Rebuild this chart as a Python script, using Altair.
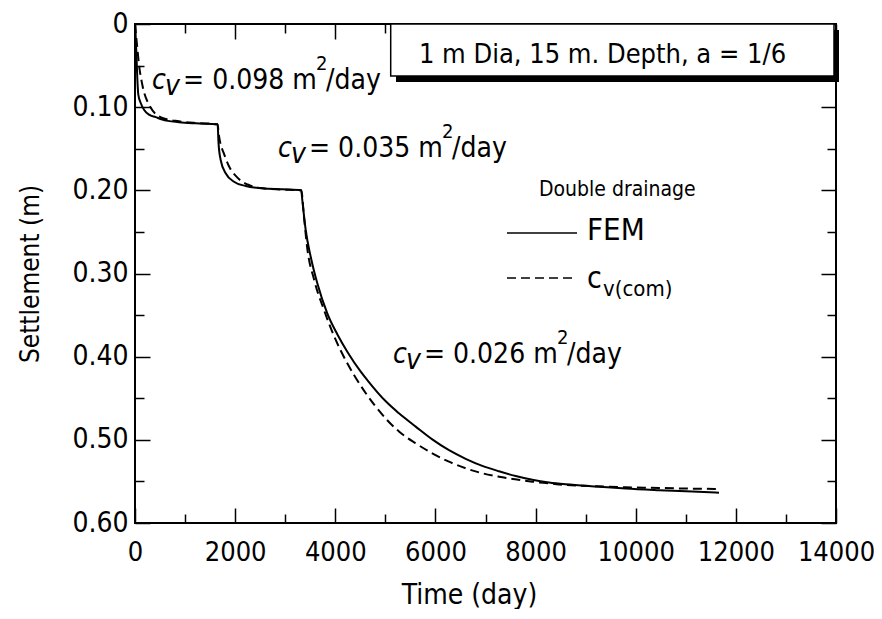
import altair as alt
import pandas as pd

FONT = "DejaVu Sans Condensed, Liberation Sans, sans-serif"
W, H = 701, 499

# FEM curve: time (day) and settlement (m)
fem_t = [0, 26, 46, 66, 114, 180, 280, 413, 545, 879, 1212, 1650,
         1668, 1711, 1811, 1977, 2211, 2542, 2942, 3320,
         3341, 3409, 3509, 3641, 3840, 4040, 4240, 4508, 4639, 5013, 5272,
         5606, 5937, 6271, 6604, 6936, 7270, 7603, 7935, 8268, 8601, 9267,
         9800, 10465, 11130, 11663]
fem_s = [0, 0.033, 0.065, 0.085, 0.095, 0.103, 0.109, 0.112, 0.115, 0.118, 0.1194, 0.1205,
         0.143, 0.1635, 0.1795, 0.1896, 0.1948, 0.1976, 0.1988, 0.2,
         0.2116, 0.2477, 0.2798, 0.3118, 0.3479, 0.373, 0.394, 0.418, 0.4281, 0.454, 0.4681,
         0.4841, 0.4995, 0.5125, 0.5228, 0.5313, 0.5378, 0.5435, 0.548, 0.5513, 0.5535, 0.5563,
         0.5585, 0.5605, 0.5622, 0.5636]

# c_v(com) curve
com_t = [0, 40, 80, 146, 280, 545, 879, 1212, 1650,
         1672, 1700, 1771, 1877, 2051, 2250, 2542, 2942, 3320,
         3375, 3441, 3575, 3775, 3974, 4240, 4374, 4806, 5272, 5606, 5937,
         6271, 6604, 6936, 7270, 7603, 7935, 8268, 8601, 9133, 9800, 10465,
         11130, 11663]
com_s = [0, 0.025, 0.049, 0.073, 0.097, 0.113, 0.117, 0.119, 0.1205,
         0.132, 0.142, 0.155, 0.171, 0.185, 0.193, 0.1976, 0.199, 0.2,
         0.232, 0.270, 0.307, 0.344, 0.375, 0.408, 0.422, 0.460, 0.490, 0.5042, 0.5162,
         0.5263, 0.5342, 0.5402, 0.5443, 0.5475, 0.5503, 0.5523, 0.5543, 0.5556, 0.5571, 0.5579,
         0.5587, 0.5591]

x_major = [0, 2000, 4000, 6000, 8000, 10000, 12000, 14000]
x_minor = [1000, 3000, 5000, 7000, 9000, 11000, 13000]
y_major = [0, 0.1, 0.2, 0.3, 0.4, 0.5, 0.6]
y_minor = [0.05, 0.15, 0.25, 0.35, 0.45, 0.55]

# annotation texts and their anchor (time, settlement)
cv_values = ["0.098", "0.035", "0.026"]
cv_t = [340, 2856, 5152]
cv_s = [0.0785, 0.1596, 0.408]

box_text = "1 m Dia, 15 m. Depth, a = 1/6"
legend_title = "Double drainage"

fem = pd.DataFrame({"t": fem_t, "s": fem_s})
com = pd.DataFrame({"t": com_t, "s": com_s})
one = pd.DataFrame({"k": [0]})

xs = alt.Scale(domain=[0, 14000], nice=False, zero=False)
ys = alt.Scale(domain=[0, 0.6], reverse=True, nice=False, zero=False)


def tick_axis(orient, values, size, offset):
    return alt.Axis(orient=orient, values=values, offset=offset, labels=False,
                    domain=False, ticks=True, tickSize=size, tickWidth=1.5,
                    tickColor="black", grid=False, title=None)


main_x = alt.Axis(orient="bottom", values=x_major, format="d", ticks=False,
                  domain=False, grid=False, labelFont=FONT, labelFontSize=27,
                  labelColor="black", labelPadding=16, labelFlush=False,
                  labelOverlap=False, title="Time (day)", titleFont=FONT,
                  titleFontSize=28, titleFontWeight="normal", titleColor="black",
                  titleX=334, titleY=80, titleBaseline="alphabetic")
main_y = alt.Axis(orient="left", values=y_major,
                  labelExpr="datum.value == 0 ? '0' : format(datum.value, '.2f')",
                  ticks=False, domain=False, grid=False, labelFont=FONT,
                  labelFontSize=28, labelColor="black", labelPadding=7,
                  labelOverlap=False, title="Settlement (m)", titleFont=FONT,
                  titleFontSize=26, titleFontWeight="normal", titleColor="black",
                  titleX=-97, titleAngle=270, titleBaseline="alphabetic")

fem_line = alt.Chart(fem).mark_line(color="black", strokeWidth=2, interpolate="monotone").encode(
    x=alt.X("t:Q", scale=xs, axis=main_x), y=alt.Y("s:Q", scale=ys, axis=main_y))
com_line = alt.Chart(com).mark_line(color="black", strokeWidth=2, strokeDash=[9, 5],
                                    interpolate="monotone").encode(
    x=alt.X("t:Q", scale=xs, axis=None), y=alt.Y("s:Q", scale=ys, axis=None))


def tick_layer(xo, yo, xv, yv, size):
    return alt.Chart(fem).mark_line(opacity=0).encode(
        x=alt.X("t:Q", scale=xs, axis=tick_axis(xo, xv, size, -H)),
        y=alt.Y("s:Q", scale=ys, axis=tick_axis(yo, yv, size, -W)))


ticks = [
    tick_layer("top", "right", x_major, y_major, 15),
    tick_layer("top", "right", x_minor, y_minor, 9),
    tick_layer("bottom", "left", x_major, y_major, 15),
    tick_layer("bottom", "left", x_minor, y_minor, 9),
]


def cv_label(t, s, val):
    base = alt.Chart(pd.DataFrame({"t": [t], "s": [s]}))
    enc = dict(x=alt.X("t:Q", scale=xs, axis=None), y=alt.Y("s:Q", scale=ys, axis=None))
    pieces = [("c", 0, 0, 28, "italic"), ("v", 13, 6, 28, "italic"),
              ("= " + val + " m", 31, 0, 28, "normal"), ("2", 164, -19, 20, "normal"),
              ("/day", 174, 0, 28, "normal")]
    return [base.mark_text(text=txt, dx=dx, dy=dy, fontSize=fs, fontStyle=st, font=FONT,
                           align="left", baseline="alphabetic", color="black").encode(**enc)
            for txt, dx, dy, fs, st in pieces]


annots = []
for t, s, v in zip(cv_t, cv_s, cv_values):
    annots += cv_label(t, s, v)


def label(txt, x, y, size, align="left"):
    return alt.Chart(one).mark_text(text=txt, font=FONT, fontSize=size, align=align,
                                    baseline="alphabetic", color="black").encode(
        x=alt.value(x), y=alt.value(y))


shadow = alt.Chart(one).mark_rect(color="black").encode(
    x=alt.value(261), x2=alt.value(704), y=alt.value(6), y2=alt.value(58))
box = alt.Chart(one).mark_rect(fill="white", stroke="black", strokeWidth=1.5).encode(
    x=alt.value(255.7), x2=alt.value(699), y=alt.value(0), y2=alt.value(52))
box_label = label(box_text, 467.5, 39, 27, "center")

leg_solid = alt.Chart(one).mark_rule(color="black", strokeWidth=1.5).encode(
    x=alt.value(372), x2=alt.value(442), y=alt.value(209))
leg_dash = alt.Chart(one).mark_rule(color="black", strokeWidth=1.5, strokeDash=[9, 5]).encode(
    x=alt.value(372), x2=alt.value(441), y=alt.value(254))
legend = [label(legend_title, 404, 172, 21), leg_solid, label("FEM", 452, 216, 31),
          leg_dash, label("c", 452, 264, 30), label("v(com)", 468, 272, 22)]

chart = alt.layer(fem_line, com_line, *ticks, *annots, shadow, box, box_label, *legend).resolve_axis(
    x="independent", y="independent"
).properties(
    width=W, height=H,
    padding={"left": 127, "top": 16, "right": 38, "bottom": 86},
    autosize=alt.AutoSizeParams(type="none"),
    background="white",
).configure_view(stroke="black", strokeWidth=2)

chart.save("out.html", embed_options={"renderer": "svg", "actions": False})
